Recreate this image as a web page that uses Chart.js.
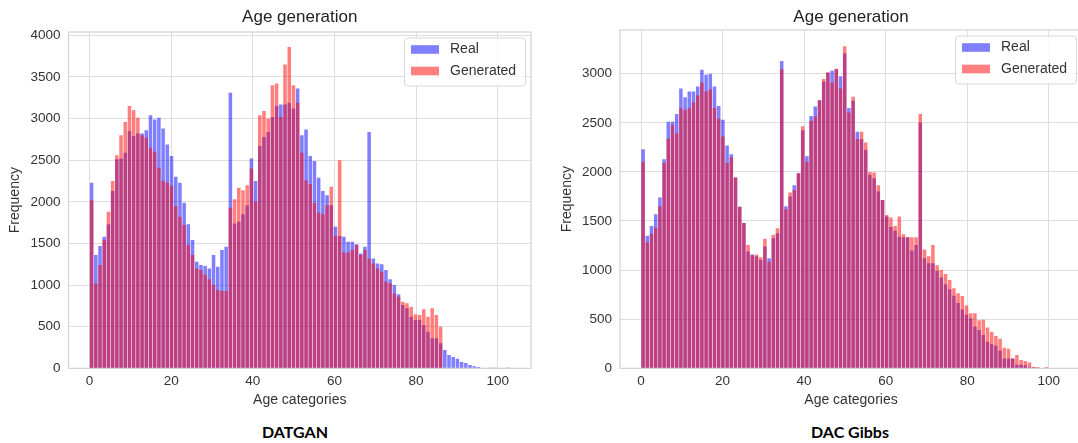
<!DOCTYPE html>
<html>
<head>
<meta charset="utf-8">
<script src="https://cdn.jsdelivr.net/npm/chart.js@4.4.1/dist/chart.umd.min.js"></script>
<style>
  html, body { margin: 0; padding: 0; background: #fff; overflow: hidden; }
  body { width: 1078px; height: 443px; position: relative; }
  .panel { position: absolute; top: 0; height: 410px; }
  #leftPanel { left: 0; width: 540px; }
  #rightPanel { left: 540px; width: 560px; }
  .caption { position: absolute; top: 422px; line-height: 20px; font: bold 16px Lato, "Liberation Sans", sans-serif; color: #000; transform: translateX(-50%); white-space: nowrap; }
</style>
</head>
<body>
<div class="panel" id="leftPanel"><canvas id="datganChart"></canvas></div>
<div class="panel" id="rightPanel"><canvas id="gibbsChart"></canvas></div>
<div class="caption" style="left:295px">DATGAN</div>
<div class="caption" style="left:850px">DAC Gibbs</div>
<script>
// histogram: 100 age bins, each a bit wider than one year
const BIN_WIDTH = 1.03;
const xTicks = [0, 20, 40, 60, 80, 100];
const yTicksDatgan = [0, 500, 1000, 1500, 2000, 2500, 3000, 3500, 4000];
const yTicksGibbs = [0, 500, 1000, 1500, 2000, 2500, 3000];

// DATGAN panel
const datganReal = [
  2230, 1360, 1470, 1580, 1730, 2130, 2510, 2520, 2590, 2850,
  2790, 2820, 2820, 2860, 3040, 2990, 3010, 2880, 2690, 2550,
  2300, 2230, 1990, 1730, 1540, 1280, 1240, 1230, 1200, 1360,
  1220, 1420, 1460, 3310, 1740, 1760, 1850, 1960, 2520, 2250,
  2670, 2780, 2840, 3020, 3150, 3170, 3170, 3190, 3120, 3360,
  2800, 2870, 2550, 2490, 2290, 2130, 2080, 1960, 1700, 1590,
  1580, 1520, 1520, 1490, 1380, 1460, 2840, 1320, 1260, 1250,
  1180, 1070, 1000, 890, 760, 720, 620, 580, 580, 520,
  440, 360, 360, 300, 220, 160, 136, 116, 76, 64,
  40, 24, 16, 8, 6, 4, 2, 0, 0, 5
];
const datganGenerated = [
  2020, 1020, 1240, 1540, 1880, 2250, 2560, 2800, 2960, 3150,
  3100, 3010, 2800, 2770, 2650, 2600, 2410, 2250, 2230, 2190,
  1950, 1820, 1720, 1480, 1360, 1200, 1180, 1120, 1070, 1000,
  940, 930, 930, 1930, 2030, 2170, 2140, 2200, 2400, 2000,
  3040, 3090, 3000, 3400, 3420, 3020, 3650, 3860, 3400, 3190,
  2590, 2260, 2210, 1990, 1870, 1850, 1960, 2180, 1590, 2500,
  1390, 1390, 1420, 1480, 1360, 1420, 1320, 1260, 1200, 1160,
  1040, 1020, 900, 860, 800, 780, 740, 650, 640, 710,
  620, 720, 640, 500, 0, 0, 0, 0, 0, 0,
  0, 0, 0, 0, 0, 0, 0, 0, 0, 0
];

// DAC Gibbs panel
const gibbsReal = [
  2230, 1350, 1450, 1570, 1740, 2130, 2510, 2510, 2590, 2850,
  2760, 2820, 2820, 2870, 3040, 2990, 3000, 2870, 2670, 2530,
  2270, 2180, 1940, 1645, 1480, 1190, 1160, 1140, 1105, 1240,
  1120, 1325, 1375, 3130, 1650, 1750, 1865, 1985, 2425, 2160,
  2570, 2665, 2730, 2920, 3010, 3030, 3045, 2975, 3205, 2650,
  2725, 2410, 2335, 2225, 1970, 1935, 1800, 1715, 1545, 1440,
  1400, 1340, 1335, 1335, 1200, 1255, 2500, 1120, 1070, 1070,
  990, 925, 855, 805, 740, 665, 600, 545, 510, 425,
  390, 340, 270, 245, 230, 180, 100, 100, 100, 35,
  35, 30, 10, 10, 0, 0, 0, 0, 0, 0
];
const gibbsGenerated = [
  2100, 1280, 1370, 1430, 1650, 2090, 2340, 2480, 2390, 2650,
  2630, 2650, 2710, 2780, 2910, 2820, 2840, 2650, 2540, 2360,
  2090, 2150, 1945, 1645, 1480, 1255, 1150, 1160, 1130, 1320,
  1085, 1360, 1425, 3045, 1620, 1790, 1815, 1985, 2465, 2100,
  2520, 2565, 2730, 2945, 3015, 2910, 3050, 2850, 3280, 2605,
  2765, 2335, 2410, 2300, 2000, 1995, 1865, 1715, 1560, 1535,
  1450, 1545, 1365, 1335, 1335, 1335, 2590, 1210, 1140, 1255,
  1050, 1000, 960, 900, 815, 765, 735, 640, 560, 560,
  490, 495, 415, 370, 330, 300, 210, 200, 100, 135,
  85, 75, 58, 12, 12, 0, 12, 0, 0, 0
];

const FONT = '"Liberation Sans", Arial, sans-serif';
const TEXT = '#333';
const GRID = '#dedede';
const REAL_COLOR = 'rgba(0, 0, 255, 0.5)';
const GEN_COLOR = 'rgba(255, 0, 0, 0.5)';

const binCenters = datganReal.map((_, i) => (i + 0.5) * BIN_WIDTH);

// light grey box round the plot area, like the seaborn axes spines
const axesFrame = {
  id: 'axesFrame',
  beforeDatasetsDraw(chart) {
    const { ctx, chartArea: a } = chart;
    ctx.save();
    ctx.strokeStyle = '#d2d2d2';
    ctx.lineWidth = 1.2;
    ctx.strokeRect(a.left, a.top, a.right - a.left, a.bottom - a.top);
    ctx.restore();
  }
};

// matplotlib-style legend inside the top right corner
const insideLegend = {
  id: 'insideLegend',
  afterDraw(chart) {
    const { ctx, chartArea: a } = chart;
    const w = 121, h = 48;
    const x = a.right - 6 - w, y = a.top + 5.5;
    ctx.save();
    ctx.beginPath();
    ctx.roundRect(x + 0.5, y + 0.5, w, h, 3);
    ctx.fillStyle = 'rgba(255,255,255,0.85)';
    ctx.fill();
    ctx.strokeStyle = '#d8d8d8';
    ctx.lineWidth = 1;
    ctx.stroke();
    ctx.font = '14px ' + FONT;
    ctx.textBaseline = 'middle';
    chart.data.datasets.forEach((ds, k) => {
      const cy = y + 12 + k * 21.5;
      ctx.fillStyle = ds.backgroundColor;
      ctx.fillRect(x + 7, cy - 4.3, 28, 8.6);
      ctx.fillStyle = TEXT;
      ctx.fillText(ds.label, x + 46, cy);
    });
    ctx.restore();
  }
};

function makeChart(canvasId, real, generated, yTicks, yMax, opts) {
  const ctx = document.getElementById(canvasId);
  return new Chart(ctx, {
    type: 'bar',
    data: {
      datasets: [
        {
          label: 'Real',
          data: real.map((v, i) => ({ x: binCenters[i], y: v })),
          backgroundColor: REAL_COLOR,
          order: 2
        },
        {
          label: 'Generated',
          data: generated.map((v, i) => ({ x: binCenters[i], y: v })),
          backgroundColor: GEN_COLOR,
          order: 1
        }
      ]
    },
    options: {
      responsive: true,
      maintainAspectRatio: false,
      animation: false,
      datasets: {
        bar: { grouped: false, barPercentage: 0.84, categoryPercentage: 1, borderWidth: 0 }
      },
      layout: { padding: { left: 0, right: opts.padRight, top: 0, bottom: 1.7 } },
      plugins: {
        legend: { display: false },
        tooltip: { enabled: false },
        title: {
          display: true,
          text: 'Age generation',
          color: '#222',
          fullSize: false,
          font: { family: FONT, size: 17, weight: 'normal' },
          padding: { top: 7.1, bottom: opts.titleBottom }
        }
      },
      scales: {
        x: {
          type: 'linear',
          min: -5.15,
          max: 108.15,
          offset: false,
          afterBuildTicks: s => { s.ticks = xTicks.map(v => ({ value: v })); },
          afterFit: s => { s.height = 40; },
          grid: { color: GRID, drawTicks: false, offset: false },
          border: { display: false },
          ticks: { color: TEXT, font: { family: FONT, size: 13.5 }, padding: 5, maxRotation: 0, callback: v => String(v) },
          title: { display: true, text: 'Age categories', color: TEXT, font: { family: FONT, size: 14 }, padding: { top: 0, bottom: 0 } }
        },
        y: {
          min: 0,
          max: yMax,
          afterBuildTicks: s => { s.ticks = yTicks.map(v => ({ value: v })); },
          afterFit: s => { s.width = opts.yWidth; },
          grid: { color: GRID, drawTicks: false },
          border: { display: false },
          ticks: { color: TEXT, font: { family: FONT, size: 13.5 }, padding: 8, callback: v => String(v) },
          title: { display: true, text: 'Frequency', color: TEXT, font: { family: FONT, size: 14 }, padding: { top: opts.yTitlePad, bottom: 0 } }
        }
      }
    },
    plugins: [axesFrame, insideLegend]
  });
}

makeChart('datganChart', datganReal, datganGenerated, yTicksDatgan, 4040,
  { padRight: 9, yWidth: 68.5, yTitlePad: 7.1, titleBottom: 4.5 });
makeChart('gibbsChart', gibbsReal, gibbsGenerated, yTicksGibbs, 3445,
  { padRight: 18, yWidth: 80, yTitlePad: 19.2, titleBottom: 2.5 });
</script>
</body>
</html>
